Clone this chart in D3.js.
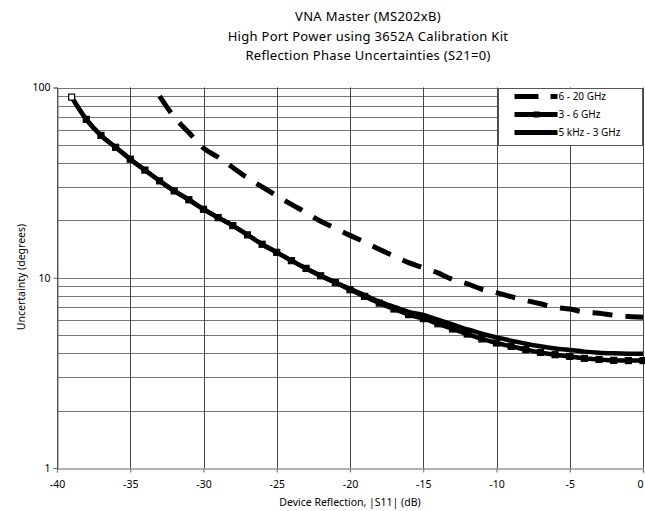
<!DOCTYPE html>
<html>
<head>
<meta charset="utf-8">
<script src="https://cdn.jsdelivr.net/npm/d3@7"></script>
<style>
  body { margin: 0; background: #fff; }
  text { font-family: "Noto Sans", "Open Sans", sans-serif; fill: #000; }
</style>
</head>
<body>
<script>
//chart values
var titleLines = ["VNA Master (MS202xB)",
    "High Port Power using 3652A Calibration Kit",
    "Reflection Phase Uncertainties (S21=0)"];

var xTicks = [-40, -35, -30, -25, -20, -15, -10, -5, 0];
var yTicks = [1, 10, 100];
var yGrid = [2, 3, 4, 5, 6, 7, 8, 9, 10, 20, 30, 40, 50, 60, 70, 80, 90, 100];

//6 - 20 GHz (dashed)
var dbHigh = [-33, -32, -31, -30, -29, -28, -27, -26, -25, -24, -23, -22, -21, -20, -19, -18, -17,
    -16, -15, -14, -13, -12, -11, -10, -9, -8, -7, -6, -5, -4, -3, -2, -1, 0];
var uncHigh = [90, 70, 58, 48, 43, 38, 33.5, 30, 27, 24.3, 22, 19.8, 18.2, 16.7, 15.4, 14.1, 13.0,
    12.0, 11.3, 10.6, 9.8, 9.3, 8.7, 8.35, 7.95, 7.6, 7.3, 7.0, 6.85, 6.6, 6.5, 6.35, 6.25, 6.2];

//3 - 6 GHz (markers) and 5 kHz - 3 GHz (solid)
var dbLow = [-39, -38, -37, -36, -35, -34, -33, -32, -31, -30, -29, -28, -27, -26, -25, -24, -23, -22, -21,
    -20, -19, -18, -17, -16, -15, -14, -13, -12, -11, -10, -9, -8, -7, -6, -5, -4, -3, -2, -1, 0];
var uncMid = [89, 68, 56, 48.5, 42, 36.8, 32.3, 28.6, 25.7, 22.9, 20.7, 18.8, 16.8, 15.0, 13.6, 12.3, 11.2, 10.24, 9.44,
    8.65, 7.98, 7.36, 6.85, 6.4, 6.1, 5.73, 5.38, 5.06, 4.77, 4.54, 4.36, 4.19, 4.05, 3.94, 3.86, 3.77, 3.72, 3.68, 3.67, 3.67];
var uncLow = [89, 68, 56, 48.5, 42, 36.8, 32.3, 28.6, 25.7, 22.9, 20.7, 18.8, 16.8, 15.0, 13.6, 12.3, 11.2, 10.24, 9.44,
    8.74, 8.1, 7.5, 7.04, 6.62, 6.38, 6.02, 5.68, 5.36, 5.08, 4.86, 4.67, 4.5, 4.36, 4.25, 4.17, 4.09, 4.04, 4.01, 3.99, 3.98];

var legendNames = ["6 - 20 GHz", "3 - 6 GHz", "5 kHz - 3 GHz"];

//frame
var width = 645,
    height = 511;

var svg = d3.select("body")
    .append("svg")
    .attr("width", width)
    .attr("height", height);

var x = d3.scaleLinear().domain([-40, 0]).range([57, 643]);
var y = d3.scaleLog().domain([1, 100]).range([468, 87.5]);

//title
svg.selectAll(".title")
    .data(titleLines)
    .enter()
    .append("text")
    .attr("x", 368)
    .attr("y", function(d, i){ return 21 + i * 19.5; })
    .attr("text-anchor", "middle")
    .style("font-size", "13px")
    .style("letter-spacing", "0.3px")
    .text(function(d){ return d; });

//horizontal grid (log)
svg.selectAll(".hgrid")
    .data(yGrid)
    .enter()
    .append("line")
    .attr("x1", x(-40)).attr("x2", x(0))
    .attr("y1", function(d){ return Math.round(y(d)) + 0.5; })
    .attr("y2", function(d){ return Math.round(y(d)) + 0.5; })
    .attr("stroke", "#777")
    .attr("stroke-width", 1);

//vertical grid
svg.selectAll(".vgrid")
    .data(xTicks)
    .enter()
    .append("line")
    .attr("x1", function(d){ return Math.round(x(d)) + 0.5; })
    .attr("x2", function(d){ return Math.round(x(d)) + 0.5; })
    .attr("y1", y(100)).attr("y2", y(1))
    .attr("stroke", "#444")
    .attr("stroke-width", 1);

//axes
var xAxis = d3.axisBottom(x).tickValues(xTicks).tickSize(4).tickFormat(function(d){ return String(d); });
var gx = svg.append("g")
    .attr("transform", "translate(0," + (Math.round(y(1)) + 0.5) + ")")
    .call(xAxis);
gx.select(".domain").attr("stroke", "#666");
gx.selectAll(".tick line").attr("stroke", "#666");
gx.selectAll(".tick text")
    .attr("dy", "1.2em")
    .style("font-size", "10.5px")
    .style("font-family", "Noto Sans, sans-serif");
//keep the last label inside the frame
gx.selectAll(".tick text")
    .filter(function(d){ return d === 0; })
    .attr("text-anchor", "end")
    .attr("dx", "0");

var yAxis = d3.axisLeft(y).tickValues(yTicks).tickSize(4).tickFormat(d3.format("d"));
var gy = svg.append("g")
    .attr("transform", "translate(" + (Math.round(x(-40)) + 0.5) + ",0)")
    .call(yAxis);
gy.select(".domain").attr("stroke", "#666");
gy.selectAll(".tick line").attr("stroke", "#666");
gy.selectAll(".tick text")
    .style("font-size", "10.5px")
    .style("font-family", "Noto Sans, sans-serif");

//axis titles
svg.append("text")
    .attr("x", 350)
    .attr("y", 506)
    .attr("text-anchor", "middle")
    .style("font-size", "10.5px")
    .text("Device Reflection, |S11| (dB)");

svg.append("text")
    .attr("transform", "translate(25,277) rotate(-90)")
    .attr("text-anchor", "middle")
    .style("font-size", "10.5px")
    .text("Uncertainty (degrees)");

//lines
var line = d3.line()
    .x(function(d){ return x(d[0]); })
    .y(function(d){ return y(d[1]); })
    .curve(d3.curveMonotoneX);

var lowData = d3.zip(dbLow, uncLow),
    midData = d3.zip(dbLow, uncMid),
    highData = d3.zip(dbHigh, uncHigh);

svg.append("path")
    .datum(lowData)
    .attr("d", line)
    .attr("fill", "none")
    .attr("stroke", "#000")
    .attr("stroke-width", 4.5);

svg.append("path")
    .datum(midData)
    .attr("d", line)
    .attr("fill", "none")
    .attr("stroke", "#000")
    .attr("stroke-width", 4.5);

svg.selectAll(".marker")
    .data(midData)
    .enter()
    .append("rect")
    .attr("x", function(d){ return x(d[0]) - 3; })
    .attr("y", function(d){ return y(d[1]) - 3; })
    .attr("width", 6)
    .attr("height", 6)
    .attr("fill", function(d, i){ return i === 0 ? "#fff" : "#000"; })
    .attr("stroke", "#000")
    .attr("stroke-width", 1.2);

svg.append("path")
    .datum(highData)
    .attr("d", line)
    .attr("fill", "none")
    .attr("stroke", "#000")
    .attr("stroke-width", 5)
    .attr("stroke-dasharray", "20,13");

//legend
var legend = svg.append("g").attr("transform", "translate(498.5,88.5)");
legend.append("rect")
    .attr("width", 144)
    .attr("height", 57)
    .attr("fill", "#fff")
    .attr("stroke", "#555");

var entries = legend.selectAll(".entry")
    .data(legendNames)
    .enter()
    .append("g")
    .attr("transform", function(d, i){ return "translate(0," + (8 + i * 18) + ")"; });

entries.append("line")
    .attr("x1", 16).attr("x2", 59)
    .attr("y1", 0).attr("y2", 0)
    .attr("stroke", "#000")
    .attr("stroke-width", 5)
    .attr("stroke-dasharray", function(d, i){ return i === 0 ? "24,12" : null; });

entries.filter(function(d, i){ return i === 1; })
    .append("rect")
    .attr("x", 35).attr("y", -3)
    .attr("width", 6).attr("height", 6)
    .attr("fill", "#000");

entries.append("text")
    .attr("x", 60)
    .attr("y", 0)
    .attr("dy", "0.35em")
    .style("font-size", "10px")
    .text(function(d){ return d; });
</script>
</body>
</html>
